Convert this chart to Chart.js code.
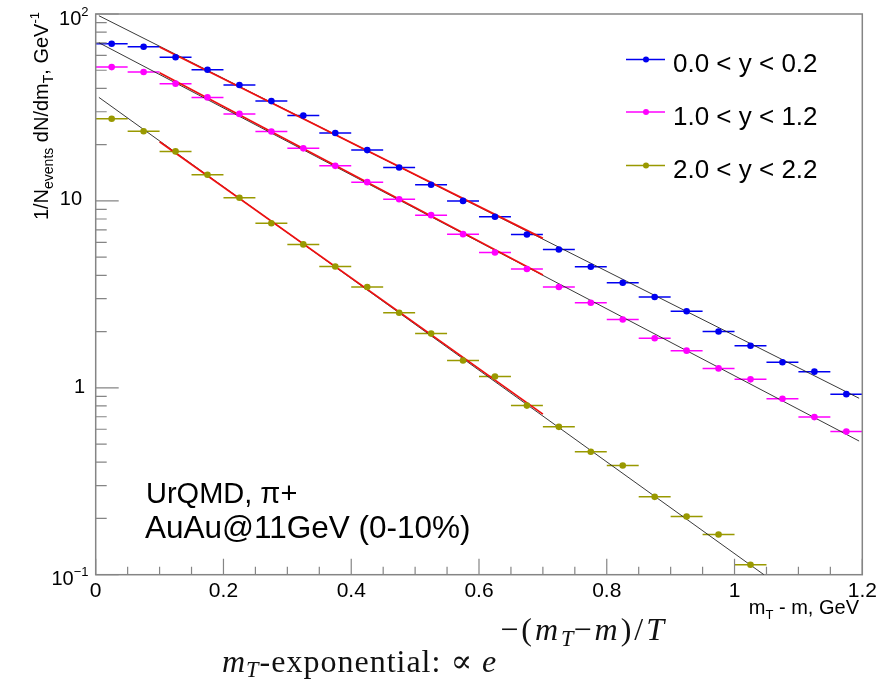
<!DOCTYPE html>
<html>
<head>
<meta charset="utf-8">
<script src="https://cdn.jsdelivr.net/npm/chart.js@4.4.1/dist/chart.umd.min.js"></script>
<style>
  html, body { margin: 0; padding: 0; background: #fff; }
  #wrap { position: relative; width: 885px; height: 694px; overflow: hidden; }
  #formula {
    position: absolute; left: 222px; top: 630px;
    font-family: "Liberation Serif", "DejaVu Serif", serif;
    font-size: 32px; line-height: 1; white-space: nowrap; color: #111;
  }
  #formula i { font-style: italic; }
  #fmain { letter-spacing: 1px; }
  #fmain sub { font-size: 0.7em; vertical-align: -0.22em; line-height: 0; }
  #fsup { font-size: 1em; vertical-align: 32px; line-height: 0; margin-left: 3px; letter-spacing: 1px; }
  #fsup sub { font-size: 0.7em; vertical-align: -0.25em; line-height: 0; letter-spacing: 0; }
  #bl { display: inline-block; width: 0; height: 0; vertical-align: baseline; }
</style>
</head>
<body>
<div id="wrap">
  <canvas id="chart" width="885" height="694"></canvas>
  <div id="formula"><span id="fmain"><i>m</i><sub><i>T</i></sub>-exponential: ∝ <i>e</i></span><sup id="fsup">−(<i>m</i><sub><i>T</i></sub>−<i>m</i>)/<i>T</i></sup><span id="bl"></span></div>
</div>
<script>
// bin centres in m_T - m (GeV), bins are 0.05 wide
const binCenters = [0.025, 0.075, 0.125, 0.175, 0.225, 0.275, 0.325, 0.375, 0.425, 0.475, 0.525, 0.575,
                    0.625, 0.675, 0.725, 0.775, 0.825, 0.875, 0.925, 0.975, 1.025, 1.075, 1.125, 1.175];
const binHalfWidth = 0.025;

const legendLabels = ['0.0 < y < 0.2', '1.0 < y < 1.2', '2.0 < y < 2.2'];
const seriesColors = ['#0000f0', '#ff00ff', '#999900'];

// 1/N dN/dm_T per rapidity window
const yields00 = [69.3, 66.8, 58.7, 50.3, 41.7, 34.2, 28.6, 23.1, 18.7, 15.1, 12.2, 10.0,
                  8.22, 6.61, 5.50, 4.44, 3.65, 3.06, 2.57, 2.00, 1.68, 1.37, 1.22, 0.925];
const yields10 = [52.0, 48.9, 42.4, 35.8, 29.2, 23.5, 19.1, 15.4, 12.6, 10.2, 8.39, 6.64,
                  5.30, 4.32, 3.46, 2.85, 2.32, 1.84, 1.58, 1.27, 1.11, 0.873, 0.697, 0.583];
const yields20 = [27.5, 23.6, 18.4, 13.8, 10.4, 7.60, 5.85, 4.46, 3.46, 2.52, 1.95, 1.40,
                  1.15, 0.803, 0.618, 0.455, 0.384, 0.261, 0.205, 0.164, 0.113];

// exponential fits: end points (straight on the log axis)
const fitX00 = [0.005, 1.195], fitY00 = [97.9, 0.879];
const fitX10 = [0.005, 1.195], fitY10 = [70.2, 0.519];
const fitX20 = [0.005, 1.046], fitY20 = [35.8, 0.1];
// fit range (red part)
const rangeX = [0.1, 0.7];
const rangeY00 = [66.6, 6.30];
const rangeY10 = [48.5, 4.01];
const rangeY20 = [20.7, 0.723];

const xMajorTicks = [0, 0.2, 0.4, 0.6, 0.8, 1, 1.2];
const xTickLabels = ['0', '0.2', '0.4', '0.6', '0.8', '1', '1.2'];
const yMajorTicks = [0.1, 1, 10, 100];
const yTickLabels = [['10', '−1'], ['1', ''], ['10', ''], ['10', '2']];

const SANS = '"Liberation Sans", Arial, Helvetica, sans-serif';
const AXIS_GREY = '#858585';

function toPoints(xs, ys) {
    return ys.map((y, i) => ({ x: xs[i], y: y }));
}

function pointSet(label, ys, color) {
    return {
        label: label,
        data: toPoints(binCenters, ys),
        showLine: false,
        pointRadius: 3.3,
        pointHoverRadius: 3.3,
        pointBackgroundColor: color,
        pointBorderWidth: 0,
        borderColor: color,
        errorBars: true
    };
}

function lineSet(xs, ys, color, width) {
    return {
        data: toPoints(xs, ys),
        showLine: true,
        borderColor: color,
        borderWidth: width,
        pointRadius: 0,
        fill: false,
        tension: 0
    };
}

function drawRich(ctx, parts, x, y) {
    let cx = x;
    parts.forEach(([t, size, dy]) => {
        ctx.font = size + 'px ' + SANS;
        ctx.fillText(t, cx, y + dy);
        cx += ctx.measureText(t).width;
    });
    return cx - x;
}

function richWidth(ctx, parts) {
    let w = 0;
    parts.forEach(([t, size]) => {
        ctx.font = size + 'px ' + SANS;
        w += ctx.measureText(t).width;
    });
    return w;
}

// horizontal bin-width bars under the markers
const errorBars = {
    id: 'errorBars',
    beforeDatasetsDraw(chart) {
        const { ctx, chartArea, scales: { x, y } } = chart;
        ctx.save();
        ctx.beginPath();
        ctx.rect(chartArea.left, chartArea.top, chartArea.width, chartArea.height);
        ctx.clip();
        ctx.lineWidth = 1.5;
        chart.data.datasets.forEach(ds => {
            if (!ds.errorBars) return;
            ctx.strokeStyle = ds.borderColor;
            ds.data.forEach(p => {
                const py = y.getPixelForValue(p.y);
                ctx.beginPath();
                ctx.moveTo(x.getPixelForValue(p.x - binHalfWidth), py);
                ctx.lineTo(x.getPixelForValue(p.x + binHalfWidth), py);
                ctx.stroke();
            });
        });
        ctx.restore();
    }
};

// ROOT-like frame, inward ticks, labels, legend and captions
const rootFrame = {
    id: 'rootFrame',
    beforeDatasetsDraw(chart) {
        const { ctx, chartArea: a, scales: { x, y } } = chart;
        ctx.save();
        ctx.strokeStyle = AXIS_GREY;
        ctx.lineWidth = 1.5;
        ctx.strokeRect(a.left, a.top, a.right - a.left, a.bottom - a.top);

        ctx.lineWidth = 1.2;
        ctx.beginPath();
        // x ticks
        for (let v = 0; v <= 1.2001; v += 0.05) {
            const px = x.getPixelForValue(v);
            const major = Math.abs(v / 0.2 - Math.round(v / 0.2)) < 1e-6;
            ctx.moveTo(px, a.bottom);
            ctx.lineTo(px, a.bottom - (major ? 16 : 8));
        }
        // y ticks
        yMajorTicks.forEach((d, i) => {
            const py = y.getPixelForValue(d);
            ctx.moveTo(a.left, py);
            ctx.lineTo(a.left + 23, py);
            if (i < yMajorTicks.length - 1) {
                for (let k = 2; k <= 9; k++) {
                    const pm = y.getPixelForValue(k * d);
                    ctx.moveTo(a.left, pm);
                    ctx.lineTo(a.left + 11, pm);
                }
            }
        });
        ctx.stroke();
        ctx.restore();
    },
    afterDraw(chart) {
        const { ctx, scales: { x, y } } = chart;
        ctx.save();
        ctx.fillStyle = '#000';
        ctx.textBaseline = 'alphabetic';

        // x tick labels
        ctx.font = '21px ' + SANS;
        ctx.textAlign = 'center';
        xMajorTicks.forEach((v, i) => {
            ctx.fillText(xTickLabels[i], x.getPixelForValue(v), 597);
        });

        // y tick labels
        ctx.textAlign = 'left';
        const yOffsets = [10.5, 5, 4, 11];
        const yRights = [88.5, 85, 82, 88.5];
        yMajorTicks.forEach((v, i) => {
            const [base, sup] = yTickLabels[i];
            const parts = [[base, 20, 0]];
            if (sup) parts.push([sup, 13, -9]);
            const w = richWidth(ctx, parts);
            drawRich(ctx, parts, yRights[i] - w, y.getPixelForValue(v) + yOffsets[i]);
        });

        // y title (rotated)
        const yTitle = [['1/N', 20, 0], ['events', 14, 5], [' dN/dm', 20, 0], ['T', 14, 5],
                        [', GeV', 20, 0], ['-1', 13, -9]];
        const wy = richWidth(ctx, yTitle);
        ctx.save();
        ctx.translate(48, 12 + wy);
        ctx.rotate(-Math.PI / 2);
        drawRich(ctx, yTitle, 0, 0);
        ctx.restore();

        // x title
        const xTitle = [['m', 20, 0], ['T', 13, 5], [' - m, GeV', 20, 0]];
        const wx = richWidth(ctx, xTitle);
        drawRich(ctx, xTitle, 859 - wx, 614);

        // legend
        const rows = [59.5, 112, 165.5];
        legendLabels.forEach((lab, i) => {
            ctx.strokeStyle = seriesColors[i];
            ctx.lineWidth = 1.3;
            ctx.beginPath();
            ctx.moveTo(626, rows[i]);
            ctx.lineTo(665, rows[i]);
            ctx.stroke();
            ctx.fillStyle = seriesColors[i];
            ctx.beginPath();
            ctx.arc(646, rows[i], 3, 0, Math.PI * 2);
            ctx.fill();
            ctx.fillStyle = '#000';
            ctx.font = '26px ' + SANS;
            ctx.fillText(lab, 673, rows[i] + 12.5);
        });

        // captions
        ctx.font = '29px ' + SANS;
        ctx.fillText('UrQMD, π+', 146, 503);
        ctx.font = '31.5px ' + SANS;
        ctx.fillText('AuAu@11GeV (0-10%)', 145, 538);
        ctx.restore();
    }
};

const chart = new Chart(document.getElementById('chart'), {
    type: 'scatter',
    data: {
        datasets: [
            pointSet(legendLabels[0], yields00, seriesColors[0]),
            pointSet(legendLabels[1], yields10, seriesColors[1]),
            pointSet(legendLabels[2], yields20, seriesColors[2]),
            lineSet(rangeX, rangeY00, '#ee1111', 1.8),
            lineSet(rangeX, rangeY10, '#ee1111', 1.8),
            lineSet(rangeX, rangeY20, '#ee1111', 1.8),
            lineSet(fitX00, fitY00, '#222', 0.9),
            lineSet(fitX10, fitY10, '#222', 0.9),
            lineSet(fitX20, fitY20, '#222', 0.9)
        ]
    },
    options: {
        responsive: false,
        animation: false,
        devicePixelRatio: 1,
        layout: { padding: { top: 14, right: 22.7, left: 0, bottom: 0 } },
        plugins: { legend: { display: false }, tooltip: { enabled: false } },
        scales: {
            x: {
                type: 'linear', min: 0, max: 1.2,
                ticks: { display: false }, grid: { display: false }, border: { display: false },
                afterFit(s) { s.height = 119.3; }
            },
            y: {
                type: 'logarithmic', min: 0.1, max: 100,
                ticks: { display: false }, grid: { display: false }, border: { display: false },
                afterFit(s) { s.width = 95.7; }
            }
        }
    },
    plugins: [errorBars, rootFrame]
});

// the olive series has fewer bins
chart.data.datasets[2].data = toPoints(binCenters.slice(0, yields20.length), yields20);
chart.update();

// adjust the exponent's spacing so the formula ends where it does in the reference,
// then put the baseline at y = 672
const formula = document.getElementById('formula');
const fsup = document.getElementById('fsup');
const wTotal = formula.getBoundingClientRect().width;
const ls = Math.max(0, Math.min(3, 1 + (450 - wTotal) / 9));
fsup.style.letterSpacing = ls.toFixed(2) + 'px';
const wrapTop = document.getElementById('wrap').getBoundingClientRect().top;
const blTop = document.getElementById('bl').getBoundingClientRect().top - wrapTop;
formula.style.top = (630 + 672 - blTop) + 'px';
</script>
</body>
</html>
